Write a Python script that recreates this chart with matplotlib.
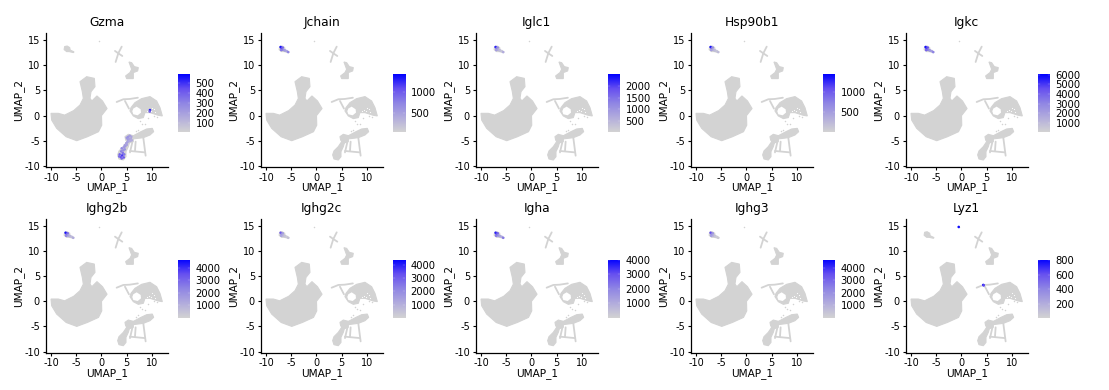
import numpy as np
import matplotlib
matplotlib.use('Agg')
import matplotlib.pyplot as plt
from matplotlib.colors import LinearSegmentedColormap

plt.rcParams['axes.unicode_minus'] = False

# Panels
genes = ['Gzma', 'Jchain', 'Iglc1', 'Hsp90b1', 'Igkc',
         'Ighg2b', 'Ighg2c', 'Igha', 'Ighg3', 'Lyz1']
cbar_ticks = [[100, 200, 300, 400, 500], [500, 1000], [500, 1000, 1500, 2000], [500, 1000],
              [1000, 2000, 3000, 4000, 5000, 6000], [1000, 2000, 3000, 4000],
              [1000, 2000, 3000, 4000], [1000, 2000, 3000, 4000],
              [1000, 2000, 3000, 4000], [200, 400, 600, 800]]
cbar_min = [6, 17, 10, 17, 20, 15, 15, 15, 15, 10]
cbar_max = [587, 1458, 2540, 1450, 6100, 4630, 4370, 4000, 4650, 810]

# Outlines of the grey cell clusters in UMAP coordinates
main_x = [-10.0, -8.55, -7.3, -5.5, -4.26, -3.6, -3.8, -4.26, -2.94, -1.42, -1.29, -2.08, -2.28,
          -1.9, -0.9, 0.2, 1.1, 0.0, 0.05, -0.6, -2.8, -4.9, -7.0, -8.88, -9.87]
main_y = [0.45, 0.45, 0.1, 1.0, 2.1, 3.4, 4.75, 6.73, 7.72, 7.39, 5.74, 4.74, 3.42,
          2.9, 3.9, 2.9, 1.4, 0.0, -1.9, -3.2, -4.2, -4.98, -4.2, -2.53, -0.88]
plasma_x = [-7.3, -6.8, -6.3, -6.2, -5.45, -5.55, -6.4, -6.9, -7.4]
plasma_y = [13.7, 13.8, 13.5, 13.0, 12.65, 12.5, 12.7, 12.7, 13.1]
upper_x = [5.44, 5.97, 6.5, 7.29, 7.16, 6.3, 6.3, 4.98, 4.78, 5.64, 5.97]
upper_y = [10.64, 10.5, 9.72, 9.52, 8.86, 8.53, 7.34, 7.34, 7.87, 8.53, 9.19]
ring_x = [5.84, 6.63, 7.95, 9.6, 10.92, 11.58, 12.05, 11.25, 9.6, 8.61, 8.28, 7.29, 6.3, 5.64]
ring_y = [1.58, 2.58, 3.37, 3.77, 2.9, 1.58, -0.07, 0.06, 0.59, 0.59, -0.4, -0.6, -0.07, 0.92]
hole_x = [6.3, 6.96, 7.75, 7.82, 7.16, 6.3, 6.1]
hole_y = [1.39, 1.78, 1.25, 0.59, 0.06, 0.26, 0.86]
nk_x = [4.65, 5.31, 6.3, 6.3, 5.31, 4.78]
nk_y = [-4.18, -3.72, -3.98, -5.17, -5.5, -4.84]
stem_x = [3.2, 3.46, 4.32, 4.98, 5.64, 5.31, 4.85, 4.85, 4.32, 3.46]
stem_y = [-7.8, -7.02, -6.16, -5.17, -5.04, -6.16, -7.15, -8.15, -8.81, -8.61]
band_x = [6.2, 7.82, 8.94, 10.06, 10.33, 9.6, 8.28, 6.2]
band_y = [-4.05, -3.19, -2.66, -2.53, -3.19, -3.85, -4.38, -4.64]
clusters = [(main_x, main_y), (plasma_x, plasma_y), (upper_x, upper_y), (ring_x, ring_y),
            (nk_x, nk_y), (stem_x, stem_y), (band_x, band_y)]

# Thin streaks of cells
streaks = [([2.67, 3.33, 4.12], [12.83, 12.36, 11.83]), ([4.0, 3.33, 2.8], [13.68, 12.36, 10.64]),
           ([3.0, 4.32, 5.6, 7.2], [2.7, 3.24, 3.3, 3.55]), ([4.65, 5.44], [2.9, 1.39]),
           ([6.1, 5.64], [-5.3, -7.3]), ([8.28, 8.74], [-4.38, -7.95]), ([5.64, 8.61], [-7.02, -7.3]),
           ([6.76, 6.63], [-5.17, -7.02])]
lone_x = [-0.55, 7.7, 8.0, 8.6, 9.2, 6.9, 7.3, 10.4, 11.0]
lone_y = [14.75, -1.1, -1.6, -1.7, -0.5, -3.1, -2.8, 0.0, -0.2]
speck_x = [9.4, 9.9, 10.3, 10.6, 9.1, 10.0]
speck_y = [1.1, 0.9, 1.25, 0.7, 0.85, 1.6]

# Cells with visible expression
gzma_x = [4.1, 3.8, 4.4, 3.6, 4.2, 4.0, 3.5, 4.5, 3.9, 4.3, 4.6, 4.0, 4.4, 4.6, 4.9, 4.7, 5.1, 5.0, 5.3,
          5.0, 5.3, 5.6, 5.9, 5.2, 5.5, 5.8, 6.0, 5.4, 5.7, 9.6, 9.55]
gzma_y = [-7.9, -8.2, -8.3, -7.7, -7.4, -8.5, -8.1, -7.7, -7.1, -6.9, -6.7, -6.5, -6.3, -5.9, -5.5, -6.1, -5.3, -5.8, -4.9,
          -4.4, -4.2, -4.0, -4.2, -4.7, -4.6, -4.6, -4.9, -5.1, -5.0, 1.1, 0.8]
gzma_val = [480, 440, 410, 400, 350, 380, 360, 340, 300, 260, 240, 280, 220, 210, 190, 230, 200, 190, 170,
            230, 250, 210, 180, 220, 200, 170, 150, 170, 150, 530, 380]
pc_x = [-7.1, -6.9, -6.7, -7.0, -6.7, -6.4, -6.2, -5.9, -5.6]
pc_y = [13.6, 13.3, 13.5, 13.0, 13.1, 13.0, 12.9, 12.8, 12.6]
pc_frac = {
    'Jchain': [0.95, 0.8, 0.65, 0.55, 0.55, 0.4, 0.35, 0.3, 0.5],
    'Iglc1': [0.9, 0.55, 0.45, 0.35, 0.3, 0.2, 0.15, 0.1, 0.25],
    'Hsp90b1': [0.95, 0.65, 0.45, 0.35, 0.3, 0.2, 0.15, 0.1, 0.15],
    'Igkc': [0.95, 0.85, 0.75, 0.65, 0.6, 0.5, 0.4, 0.35, 0.5],
    'Ighg2b': [0.95, 0.75, 0.6, 0.5, 0.4, 0.3, 0.2, 0.15, 0.25],
    'Ighg2c': [0.7, 0.5, 0.35, 0.3, 0.25, 0.15, 0.1, 0.05, 0.1],
    'Igha': [0.9, 0.8, 0.65, 0.55, 0.5, 0.4, 0.3, 0.25, 0.55],
    'Ighg3': [0.75, 0.55, 0.4, 0.35, 0.3, 0.2, 0.1, 0.05, 0.05],
}
lyz_x = [-0.55, 4.32, 4.4]
lyz_y = [14.75, 3.24, 3.15]
lyz_val = [780, 780, 620]

cmap = LinearSegmentedColormap.from_list('seurat', ['#D3D3D3', '#B2ACDD', '#8F85E4', '#664FF0', '#0000FF'])

W, H = 1109, 390
fig = plt.figure(figsize=(W / 100, H / 100), dpi=100)


def px_axes(x0, y0, x1, y1):
    return fig.add_axes([x0 / W, 1 - y1 / H, (x1 - x0) / W, (y1 - y0) / H])


for i, gene in enumerate(genes):
    dx = 215 * (i % 5)
    dy = 185.7 * (i // 5)
    ax = px_axes(45.5 + dx, 33 + dy, 168 + dx, 167 + dy)
    ax.set_xlim(-11.09, 13.17)
    ax.set_ylim(-10.2, 16.39)

    # grey cells
    for cx, cy in clusters:
        ax.fill(cx, cy, color='lightgrey', lw=0.8, zorder=1)
    ax.fill(hole_x, hole_y, color='white', lw=0, zorder=1.5)
    ax.scatter(speck_x, speck_y, s=0.7, color='white', lw=0, zorder=1.5)
    for sx, sy in streaks:
        ax.plot(sx, sy, color='lightgrey', lw=1.3, zorder=1, solid_capstyle='round')
    ax.scatter(lone_x, lone_y, s=1.2, color='lightgrey', lw=0, zorder=1)

    # expressing cells
    vmin, vmax = cbar_min[i], cbar_max[i]
    if gene == 'Gzma':
        px, py, pv = gzma_x, gzma_y, gzma_val
    elif gene == 'Lyz1':
        px, py, pv = lyz_x, lyz_y, lyz_val
    else:
        px, py = pc_x, pc_y
        pv = [vmin + f * (vmax - vmin) for f in pc_frac[gene]]
    ax.scatter(px, py, c=pv, cmap=cmap, vmin=vmin, vmax=vmax, s=3.5, lw=0, zorder=2)

    ax.set_title(gene, fontsize=8.8, pad=5)
    ax.set_xlabel('UMAP_1', fontsize=7.6, labelpad=0)
    ax.set_ylabel('UMAP_2', fontsize=7.6, labelpad=0)
    ax.set_xticks([-10, -5, 0, 5, 10])
    ax.set_yticks([-10, -5, 0, 5, 10, 15])
    ax.tick_params(labelsize=7, length=2.5, width=0.8, pad=1.5)
    ax.spines['top'].set_visible(False)
    ax.spines['right'].set_visible(False)
    ax.spines['left'].set_linewidth(0.9)
    ax.spines['bottom'].set_linewidth(0.9)

    # colour bar
    cax = px_axes(178 + dx, 74 + dy, 190 + dx, 132 + dy)
    grad = np.linspace(vmin, vmax, 256).reshape(-1, 1)
    cax.imshow(grad, origin='lower', aspect='auto', cmap=cmap, vmin=vmin, vmax=vmax,
               extent=[0, 1, vmin, vmax])
    cax.set_xticks([])
    cax.yaxis.tick_right()
    cax.set_yticks(cbar_ticks[i])
    cax.tick_params(axis='y', length=0, labelsize=7.2, pad=4)
    for t in cbar_ticks[i]:
        cax.plot([0, 0.2], [t, t], color='white', lw=0.25, alpha=0.6)
        cax.plot([0.8, 1], [t, t], color='white', lw=0.25, alpha=0.6)
    cax.set_xlim(0, 1)
    cax.set_ylim(vmin, vmax)
    for s in cax.spines.values():
        s.set_visible(False)

fig.savefig('out.png', dpi=100)
